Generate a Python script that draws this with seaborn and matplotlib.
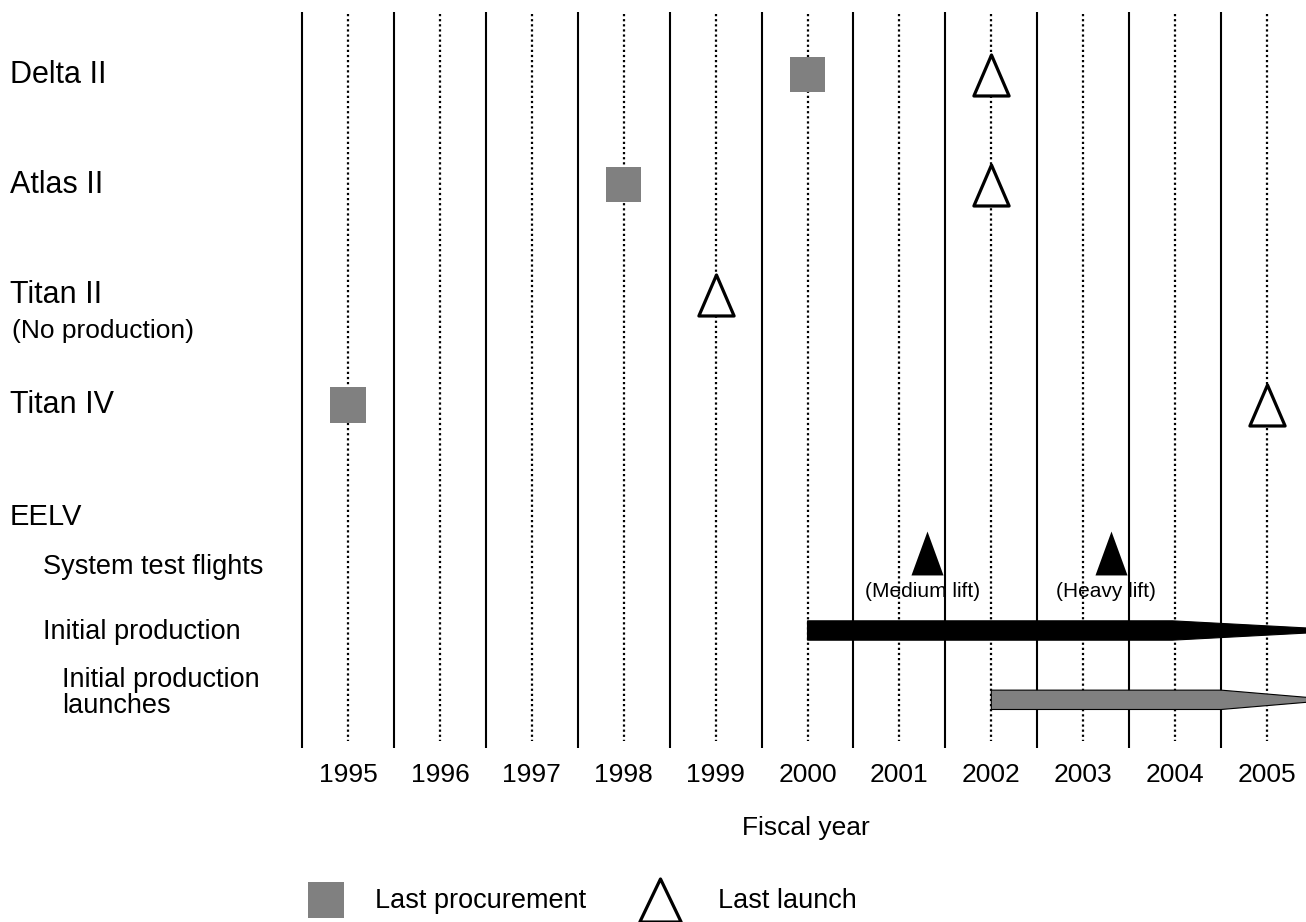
import matplotlib
matplotlib.use("Agg")
import matplotlib.pyplot as plt
import seaborn as sns
import pandas as pd
from matplotlib.path import Path
from matplotlib.lines import Line2D
from matplotlib.transforms import blended_transform_factory

# Dữ liệu: năm tài chính và các dòng tên lửa
years = list(range(1995, 2006))
rows = ["Delta II", "Atlas II", "Titan II", "Titan IV"]
row_y = [0, 1, 2, 3]
last_procurement = [2000, 1998, None, 1995]
last_launch = [2002, 2002, 1999, 2005]

# EELV
eelv_y = 4.02
test_labels = ["(Medium lift)", "(Heavy lift)"]
test_years = [2001.3, 2003.3]
test_y = 4.35

bar_names = ["Initial production", "Initial production\nlaunches"]
bar_start = [2000, 2002]
bar_taper = [2003.97, 2004.5]
bar_tip = [2005.95, 2005.75]
bar_y = [5.05, 5.68]
bar_colors = ["black", "#808080"]

sns.set_style("white")
plt.rcParams["font.family"] = ["Liberation Sans", "DejaVu Sans"]
plt.rcParams["text.color"] = "black"
plt.rcParams["xtick.color"] = "black"

W, H = 1306, 922
fig = plt.figure(figsize=(W / 100, H / 100), dpi=100)
ax = fig.add_axes([300 / W, 1 - 748 / H, 1006 / W, 738 / H])
ax.set_xlim(1995 - 48 / 91.9, 1995 + 958 / 91.9)
ax.set_ylim(6.118, -0.59)
for s in ax.spines.values():
    s.set_visible(False)

# Lưới dọc: đường liền ở ranh giới năm, chấm ở giữa năm
ax.vlines([y - 0.5 for y in years], -0.57, 6.118, color="black", lw=1.5, zorder=1)
ax.vlines(years, -0.55, 6.05, color="black", lw=1.6, linestyles=(0, (1, 1.3)), zorder=1)

tri_open = Path([(0, 1), (-0.86, -1), (0.86, -1), (0, 1)], closed=True)
tri_fill = Path([(0, 1), (-0.73, -1), (0.73, -1), (0, 1)], closed=True)
tri_legend = Path([(0, 1), (-0.96, -1), (0.96, -1), (0, 1)], closed=True)

df_proc = pd.DataFrame({"year": last_procurement, "y": row_y}).dropna()
df_launch = pd.DataFrame({"year": last_launch, "y": row_y})
df_test = pd.DataFrame({"year": test_years, "y": [test_y] * 2})

sns.scatterplot(data=df_proc, x="year", y="y", marker="s", s=640, color="#808080",
                edgecolor="none", linewidth=0, ax=ax, zorder=5, legend=False)
sns.scatterplot(data=df_launch, x="year", y="y", marker=tri_open, s=870, color="white",
                edgecolor="black", linewidth=2.3, ax=ax, zorder=5, legend=False)
sns.scatterplot(data=df_test, x="year", y="y", marker=tri_fill, s=1000, color="black",
                edgecolor="black", linewidth=0, ax=ax, zorder=5, legend=False)

for lab, x in zip(test_labels, test_years):
    ax.text(x - 0.05, test_y + 0.35, lab, ha="center", va="center", fontsize=15, zorder=6)

# Thanh tiến độ có đuôi nhọn
hh = 0.088
for x0, x1, x2, yc, c in zip(bar_start, bar_taper, bar_tip, bar_y, bar_colors):
    ax.fill([x0, x1, x2, x1, x0], [yc - hh, yc - hh, yc, yc + hh, yc + hh],
            facecolor=c, edgecolor="black", lw=0.8, zorder=4)

ax.set_xticks(years)
ax.set_xticklabels([str(y) for y in years], fontsize=19)
ax.tick_params(axis="x", length=0, pad=11)
ax.set_yticks([])
ax.set_xlabel("")
ax.set_ylabel("")

# Nhãn bên trái
tr = blended_transform_factory(fig.transFigure, ax.transData)
for lab, y in zip(rows, row_y):
    ax.text(10 / W, y, lab, transform=tr, fontsize=22, va="center", ha="left")
ax.text(12 / W, 2.33, "(No production)", transform=tr, fontsize=19, va="center", ha="left")
ax.text(10 / W, eelv_y, "EELV", transform=tr, fontsize=21, va="center", ha="left")
ax.text(43 / W, 4.47, "System test flights", transform=tr, fontsize=19.5, va="center", ha="left")
ax.text(43 / W, bar_y[0] + 0.01, bar_names[0], transform=tr, fontsize=19.5, va="center", ha="left")
ax.text(62 / W, 5.62, bar_names[1], transform=tr, fontsize=19.5, va="center", ha="left",
        linespacing=1.0)

fig.text(806 / W, 1 - 828 / H, "Fiscal year", fontsize=19, ha="center", va="center")

# Chú thích
fig.add_artist(Line2D([325.5 / W], [1 - 900 / H], transform=fig.transFigure, marker="s",
                      markersize=26.6, color="#808080", markeredgewidth=0, linestyle="none"))
fig.text(375 / W, 1 - 901 / H, "Last procurement", fontsize=19.5, va="center")
fig.add_artist(Line2D([660 / W], [1 - 900 / H], transform=fig.transFigure, marker=tri_legend,
                      markersize=31, markerfacecolor="white", markeredgecolor="black",
                      markeredgewidth=2.3, linestyle="none"))
fig.text(718 / W, 1 - 901 / H, "Last launch", fontsize=19.5, va="center")

fig.savefig("out.png", dpi=100)
